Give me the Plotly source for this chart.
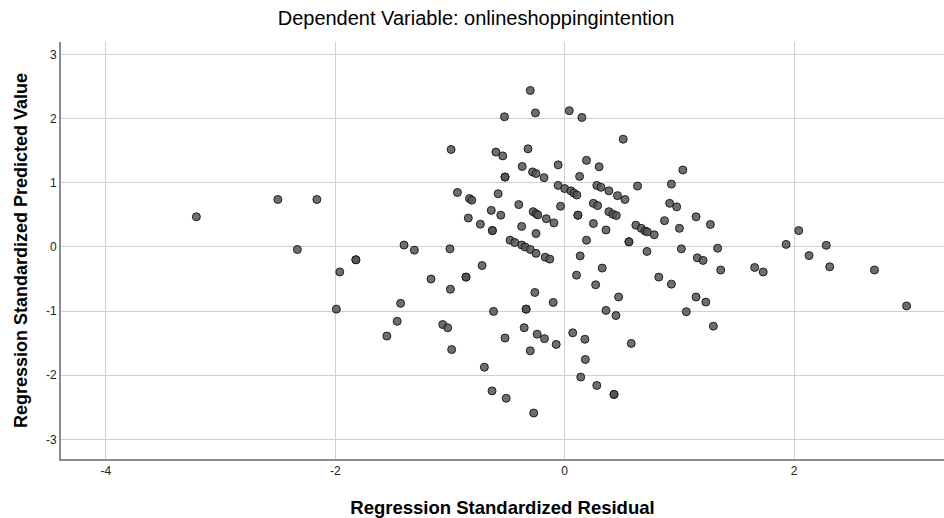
import plotly.graph_objects as go

# Regression Standardized Residual (x) and Standardized Predicted Value (y)
residual = [
    -3.21, -2.50, -2.16, -2.33, -1.40, -1.31, -1.82, -1.82, -1.96, -1.165,
    -1.99, -1.43, -1.46, -1.55, -1.063, -1.02,
    -0.30, -0.525, -0.255, 0.04, 0.15, 0.51, -0.99, -0.60, -0.54, -0.32,
    0.19, 0.30, 1.03, -0.37, -0.28, -0.25, -0.18, -0.057, -0.52, -0.52,
    0.13, 0.635, 0.93, -0.935, -0.83, -0.81, -0.58, -0.057, 0.00, 0.054,
    0.08, 0.106, 0.28, 0.316, 0.385, 0.46, 0.525, 0.915, 0.976, -0.40,
    -0.64, -0.557, -0.84, -0.735, -0.63, -0.63, -0.275, -0.25, -0.234, -0.16,
    -0.094, -0.036, -0.375, -0.25, 0.115, 0.115, 0.25, 0.287, 0.25, 0.36,
    0.385, 0.42, 0.45, 0.19, 0.56, 0.56, 0.62, 0.667, 0.70, 0.72,
    0.78, 0.87, 1.0, 0.717, 1.017, -0.476, -0.435, -0.374, -0.345, -0.30,
    -0.25, -0.17, -0.13, -1.0, 0.135,
    -0.72, -0.86, -0.86, -0.996, -0.26, -0.10, -0.62, -0.336, -0.336, -0.353,
    -0.52, -0.24, -0.176, -0.074, -0.30, -0.985, -0.70, -0.633, -0.51, -0.27,
    0.103, 0.327, 0.27, 0.47, 0.82, 0.93, 0.36, 0.447, 1.06, 0.07,
    0.176, 0.58, 0.18, 0.14, 0.28, 0.43, 0.43,
    1.145, 1.27, 1.333, 1.156, 1.206, 1.36, 1.656, 1.73, 1.93, 2.04,
    2.13, 2.28, 2.31, 2.70, 2.98, 1.145, 1.23, 1.296,
]
predicted = [
    0.47, 0.74, 0.74, -0.04, 0.03, -0.05, -0.20, -0.20, -0.39, -0.50,
    -0.97, -0.88, -1.16, -1.39, -1.21, -1.26,
    2.44, 2.03, 2.09, 2.125, 2.02, 1.68, 1.52, 1.48, 1.42, 1.53,
    1.35, 1.25, 1.20, 1.255, 1.17, 1.145, 1.08, 1.28, 1.09, 1.09,
    1.10, 0.95, 0.98, 0.85, 0.755, 0.73, 0.83, 0.96, 0.91, 0.875,
    0.84, 0.81, 0.96, 0.93, 0.875, 0.80, 0.74, 0.68, 0.625, 0.66,
    0.57, 0.495, 0.45, 0.355, 0.255, 0.255, 0.55, 0.52, 0.50, 0.44,
    0.375, 0.635, 0.32, 0.21, 0.495, 0.495, 0.68, 0.645, 0.365, 0.265,
    0.55, 0.51, 0.49, 0.105, 0.08, 0.08, 0.34, 0.29, 0.25, 0.235,
    0.19, 0.41, 0.29, -0.07, -0.03, 0.105, 0.07, 0.03, 0.00, -0.04,
    -0.10, -0.16, -0.19, -0.03, -0.14,
    -0.29, -0.47, -0.47, -0.66, -0.71, -0.865, -1.005, -0.97, -0.97, -1.26,
    -1.42, -1.36, -1.43, -1.52, -1.62, -1.60, -1.875, -2.245, -2.36, -2.59,
    -0.44, -0.33, -0.59, -0.78, -0.47, -0.58, -0.99, -1.07, -1.01, -1.34,
    -1.44, -1.505, -1.755, -2.03, -2.16, -2.30, -2.30,
    0.47, 0.35, -0.02, -0.17, -0.21, -0.36, -0.32, -0.39, 0.04, 0.255,
    -0.135, 0.025, -0.31, -0.36, -0.92, -0.78, -0.86, -1.235,
]

x_ticks = [-4, -2, 0, 2]
y_ticks = [-3, -2, -1, 0, 1, 2, 3]

fig = go.Figure()
fig.add_trace(go.Scatter(
    x=residual, y=predicted, mode="markers",
    marker=dict(size=8, color="rgba(85,85,85,0.85)",
                line=dict(color="rgba(20,20,20,0.9)", width=1)),
    hoverinfo="x+y", showlegend=False,
))

font_family = "Liberation Sans, Arial, sans-serif"
fig.update_layout(
    width=944, height=518,
    margin=dict(l=61, r=0, t=42, b=59),
    paper_bgcolor="white", plot_bgcolor="white",
    font=dict(family=font_family, color="#000000"),
    title=dict(text="Dependent Variable: onlineshoppingintention",
               x=476 / 944, xref="container", xanchor="center",
               y=1 - 18 / 518, yref="container", yanchor="middle",
               font=dict(size=20, family=font_family, color="#000000")),
    xaxis=dict(range=[-4.39, 3.306], tickvals=x_ticks, ticktext=[str(v) for v in x_ticks],
               showgrid=True, gridcolor="#d0d0d0", gridwidth=1,
               zeroline=False, showline=True, linecolor="#8c8c8c", linewidth=2,
               ticks="", tickfont=dict(size=12, color="#222222"),
               title=dict(text="<b>Regression Standardized Residual</b>",
                          font=dict(size=18.5, color="#000000"), standoff=24),
               automargin=False, fixedrange=True),
    yaxis=dict(range=[-3.307, 3.196], tickvals=y_ticks, ticktext=[str(v) for v in y_ticks],
               showgrid=True, gridcolor="#d0d0d0", gridwidth=1,
               zeroline=False, showline=True, linecolor="#8c8c8c", linewidth=2,
               ticks="", tickfont=dict(size=12, color="#222222"),
               title=dict(text="<b>Regression Standardized Predicted Value</b>",
                          font=dict(size=18, color="#000000"), standoff=14),
               automargin=False, fixedrange=True),
)

fig.write_html("out.html")
